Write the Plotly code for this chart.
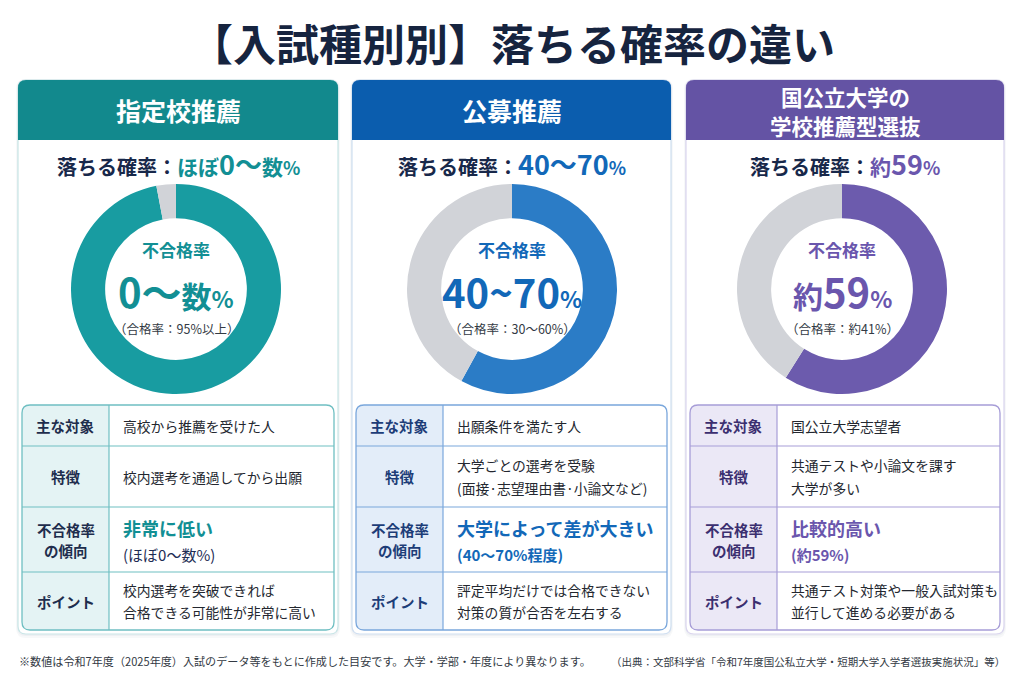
import re
import plotly.graph_objects as go

# ---------------- data ----------------
title = "【入試種別別】落ちる確率の違い"
categories = ["指定校推薦", "公募推薦", "国公立大学の<br>学校推薦型選抜"]
arc_share = [97, 58, 59]        # coloured arc (%)
rest_share = [3, 42, 41]        # grey remainder (%)
drop_prefix = "落ちる確率："
drop_values = ["ほぼ0～数%", "40～70%", "約59%"]
center_label = "不合格率"
center_values = ["0～数%", "40~70%", "約59%"]
pass_labels = ["（合格率：95%以上）", "（合格率：30～60%）", "（合格率：約41%）"]
row_labels = ["主な対象", "特徴", "不合格率\nの傾向", "ポイント"]
targets = ["高校から推薦を受けた人", "出願条件を満たす人", "国公立大学志望者"]
features = ["校内選考を通過してから出願",
            "大学ごとの選考を受験\n(面接·志望理由書·小論文など)",
            "共通テストや小論文を課す\n大学が多い"]
tend_main = ["非常に低い", "大学によって差が大きい", "比較的高い"]
tend_sub = ["(ほぼ0～数%)", "(40～70%程度)", "(約59%)"]
points = ["校内選考を突破できれば\n合格できる可能性が非常に高い",
          "評定平均だけでは合格できない\n対策の質が合否を左右する",
          "共通テスト対策や一般入試対策も\n並行して進める必要がある"]
foot_left = "※数値は令和7年度（2025年度）入試のデータ等をもとに作成した目安です。大学・学部・年度により異なります。"
foot_right = "（出典：文部科学省「令和7年度国公私立大学・短期大学入学者選抜実施状況」等）"

# ---------------- style ----------------
W, H = 1024, 683
FONT = "Noto Sans CJK JP"
NAVY = "#18284a"
TXT = "#23272f"
GREY = "#d1d3d8"
head_col = ["#12898d", "#0b5dae", "#6453a4"]
arc_col = ["#189ca1", "#2b7cc6", "#6c5bad"]
acc_col = ["#128f94", "#1268b8", "#6a56ad"]
sub_col = ["#1e2d55", "#1268b8", "#6a56ad"]
card_border = ["#c9e6e7", "#cfdff1", "#dad5ee"]
tbl_border = ["#6fbfc2", "#7aa7dc", "#a79dd7"]
lab_bg = ["#e4f3f4", "#e3edf9", "#ebe8f6"]
lab_txt = ["#1e2d4d", "#1d3d78", "#3b2f70"]

card_L = [18, 352, 686]
card_R = [338, 671, 1004]
donut_cx = [176, 512, 842]
donut_cy = 289
donut_r = 105
rows_y = [405, 446, 507, 572, 630]

fig = go.Figure()
fig.add_trace(go.Scatter(x=[0, W], y=[0, H], mode="markers",
                         marker=dict(opacity=0), hoverinfo="skip", showlegend=False))

shapes = []
annots = []


def rpath(x0, y0, x1, y1, r, tl=True, tr=True, br=True, bl=True):
    p = []
    p.append(f"M {x0 + (r if tl else 0)} {y0}")
    if tr:
        p.append(f"L {x1 - r} {y0} Q {x1} {y0} {x1} {y0 + r}")
    else:
        p.append(f"L {x1} {y0}")
    if br:
        p.append(f"L {x1} {y1 - r} Q {x1} {y1} {x1 - r} {y1}")
    else:
        p.append(f"L {x1} {y1}")
    if bl:
        p.append(f"L {x0 + r} {y1} Q {x0} {y1} {x0} {y1 - r}")
    else:
        p.append(f"L {x0} {y1}")
    if tl:
        p.append(f"L {x0} {y0 + r} Q {x0} {y0} {x0 + r} {y0}")
    else:
        p.append(f"L {x0} {y0}")
    return " ".join(p) + " Z"


def shape_path(path, fill=None, line=None, lw=0):
    shapes.append(dict(type="path", path=path, xref="x", yref="y", layer="below",
                       fillcolor=fill if fill else "rgba(0,0,0,0)",
                       line=dict(color=line if line else "rgba(0,0,0,0)", width=lw)))


def line(x0, y0, x1, y1, color, lw=1.2):
    shapes.append(dict(type="line", x0=x0, y0=y0, x1=x1, y1=y1, xref="x", yref="y",
                       layer="below", line=dict(color=color, width=lw)))


def txt(x, y, s, size, color, bold=False, xanchor="center"):
    annots.append(dict(x=x, y=y, xref="x", yref="y", showarrow=False,
                       text=f"<b>{s}</b>" if bold else s,
                       font=dict(size=size, color=color, family=FONT),
                       xanchor=xanchor, yanchor="middle", borderpad=0))


def rich(s, color, big, mid, small):
    out = ""
    for tok in re.findall(r"[0-9～~]+|%|[^0-9～~%]+", s):
        if tok == "%":
            sz = small
        elif re.match(r"[0-9～~]", tok):
            sz = big
        else:
            sz = mid
        out += f"<span style='font-size:{sz}px;color:{color}'>{tok}</span>"
    return out


# title
txt(512, 42, title, 43, "#16243f", bold=True)

for i in range(3):
    L, R = card_L[i], card_R[i]
    cx = (L + R) / 2
    # shadow + card
    shape_path(rpath(L - 2, 79, R + 2, 638, 10), fill="rgba(30,50,90,0.035)")
    shape_path(rpath(L - 1, 79, R + 1, 636, 9), fill="rgba(30,50,90,0.04)")
    shape_path(rpath(L, 80, R, 634, 8), fill="white", line=card_border[i], lw=1.2)
    shape_path(rpath(L, 80, R, 140, 8, br=False, bl=False), fill=head_col[i])
    # header text
    lines = categories[i].split("<br>")
    if len(lines) == 1:
        txt(cx, 110, lines[0], 25, "white", bold=True)
    else:
        txt(cx, 96, lines[0], 21.5, "white", bold=True)
        txt(cx, 125, lines[1], 21.5, "white", bold=True)
    # drop probability line
    txt(cx, 163, f"<span style='color:{NAVY}'>{drop_prefix}</span>" +
        rich(drop_values[i], acc_col[i], 27, 21, 18), 20, NAVY, bold=True)
    # donut
    dx = donut_cx[i]
    fig.add_trace(go.Pie(
        values=[arc_share[i], rest_share[i]],
        marker=dict(colors=[arc_col[i], GREY], line=dict(width=0)),
        hole=0.675, sort=False, direction="clockwise", rotation=0,
        textinfo="none", hoverinfo="skip", showlegend=False,
        domain=dict(x=[(dx - donut_r) / W, (dx + donut_r) / W],
                    y=[1 - (donut_cy + donut_r) / H, 1 - (donut_cy - donut_r) / H])))
    txt(dx, 249, center_label, 17, acc_col[i], bold=True)
    txt(dx, 291, rich(center_values[i], acc_col[i], 40, 30, 23), 38, acc_col[i], bold=True)
    txt(dx, 328, pass_labels[i], 12.5, "#333a44")

    # table
    TL, TR = L + 4, R - 4
    col = TL + 87
    top, bot = rows_y[0], rows_y[-1]
    shape_path(rpath(TL, top, col, bot, 8, tr=False, br=False), fill=lab_bg[i])
    shape_path(rpath(TL, top, TR, bot, 8), line=tbl_border[i], lw=1.3)
    line(col, top, col, bot, tbl_border[i])
    for yy in rows_y[1:-1]:
        line(TL, yy, TR, yy, tbl_border[i])
    for r in range(4):
        yc = (rows_y[r] + rows_y[r + 1]) / 2
        ls = row_labels[r].split("\n")
        for k, s in enumerate(ls):
            txt((TL + col) / 2, yc + (k - (len(ls) - 1) / 2) * 21, s, 14.5, lab_txt[i], bold=True)
    cxl = col + 13

    def para(s, yc, size=13.8, color=TXT, gap=22.5):
        ls = s.split("\n")
        for k, t in enumerate(ls):
            txt(cxl, yc + (k - (len(ls) - 1) / 2) * gap, t, size, color, xanchor="left")

    para(targets[i], (rows_y[0] + rows_y[1]) / 2)
    para(features[i], (rows_y[1] + rows_y[2]) / 2)
    y3 = (rows_y[2] + rows_y[3]) / 2
    txt(cxl, y3 - 12, tend_main[i], 18, acc_col[i], bold=True, xanchor="left")
    txt(cxl, y3 + 15, tend_sub[i], 15, sub_col[i], bold=(i > 0), xanchor="left")
    para(points[i], (rows_y[3] + rows_y[4]) / 2)

# footer
txt(18, 661, foot_left, 11.1, "#333a44", xanchor="left")
txt(1006, 661, foot_right, 10.5, "#333a44", xanchor="right")

fig.update_layout(
    width=W, height=H, margin=dict(l=0, r=0, t=0, b=0),
    paper_bgcolor="white", plot_bgcolor="white",
    xaxis=dict(range=[0, W], visible=False, fixedrange=True),
    yaxis=dict(range=[H, 0], visible=False, fixedrange=True),
    shapes=shapes, annotations=annots, showlegend=False,
    font=dict(family=FONT),
)
fig.write_html("out.html", config={"displayModeBar": False},
               post_script="document.body.style.margin='0';document.body.style.overflow='hidden';")
